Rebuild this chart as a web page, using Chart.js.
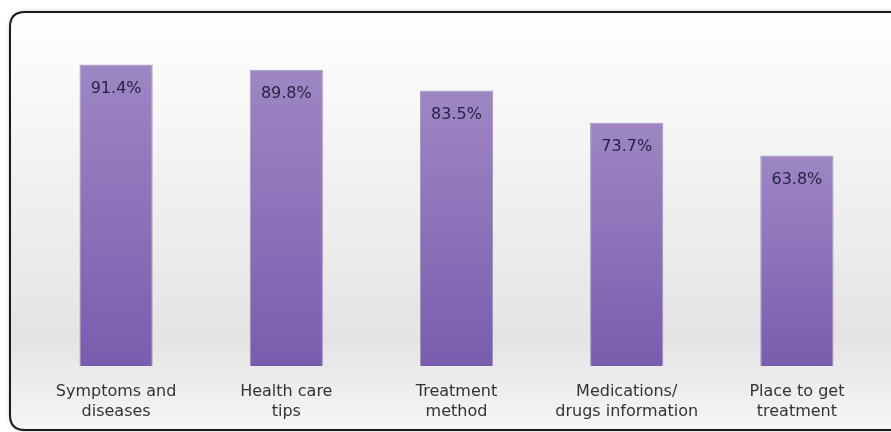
<!DOCTYPE html>
<html>
<head>
<meta charset="utf-8">
<script src="https://cdn.jsdelivr.net/npm/chart.js@4"></script>
<style>
  html, body { margin: 0; padding: 0; background: #fff; }
  #wrap { width: 891px; height: 432px; }
</style>
</head>
<body>
<div id="wrap"><canvas id="myChart" width="891" height="432"></canvas></div>
<script>
// data
const categories = [
  ['Symptoms and', 'diseases'],
  ['Health care', 'tips'],
  ['Treatment', 'method'],
  ['Medications/', 'drugs information'],
  ['Place to get', 'treatment']
];
const shares = [91.4, 89.8, 83.5, 73.7, 63.8];

// grey panel with rounded frame behind the chart
const panel = {
  id: 'panel',
  beforeDraw(chart) {
    const ctx = chart.ctx;
    const x0 = 10, y0 = 12, x1 = 896, y1 = 430, r = 15;
    ctx.save();
    const g = ctx.createLinearGradient(0, y0, 0, y1);
    g.addColorStop(0, '#ffffff');
    g.addColorStop(0.78, '#e4e4e4');
    g.addColorStop(1, '#f6f6f6');
    ctx.beginPath();
    ctx.moveTo(x0 + r, y0);
    ctx.lineTo(x1, y0);
    ctx.lineTo(x1, y1);
    ctx.lineTo(x0 + r, y1);
    ctx.quadraticCurveTo(x0, y1, x0, y1 - r);
    ctx.lineTo(x0, y0 + r);
    ctx.quadraticCurveTo(x0, y0, x0 + r, y0);
    ctx.closePath();
    ctx.fillStyle = g;
    ctx.shadowColor = 'rgba(0,0,0,0.35)';
    ctx.shadowBlur = 4;
    ctx.fill();
    ctx.shadowColor = 'transparent';
    ctx.lineWidth = 2;
    ctx.strokeStyle = '#1a1a1a';
    ctx.stroke();
    ctx.restore();
  }
};

// percentage written inside the top of each bar
const valueLabels = {
  id: 'valueLabels',
  afterDatasetsDraw(chart) {
    const ctx = chart.ctx;
    const meta = chart.getDatasetMeta(0);
    ctx.save();
    ctx.font = '16px "DejaVu Sans"';
    ctx.fillStyle = '#2b2242';
    ctx.textAlign = 'center';
    ctx.textBaseline = 'middle';
    meta.data.forEach((bar, i) => {
      ctx.fillText(shares[i].toFixed(1) + '%', bar.x, bar.y + 24);
    });
    ctx.restore();
  }
};

function barFill(context) {
  const chart = context.chart;
  if (!chart.chartArea) return '#8a72b8';
  const y = chart.scales.y;
  const top = y.getPixelForValue(context.raw);
  const bottom = y.getPixelForValue(0);
  const g = chart.ctx.createLinearGradient(0, top, 0, bottom);
  g.addColorStop(0, '#9e87c4');
  g.addColorStop(1, '#7a5cae');
  return g;
}

const myChart = new Chart(document.getElementById('myChart'), {
  type: 'bar',
  data: {
    labels: categories,
    datasets: [{
      data: shares,
      backgroundColor: barFill,
      borderColor: 'rgba(105,85,145,0.6)',
      borderWidth: 1,
      barPercentage: 0.43,
      categoryPercentage: 1
    }]
  },
  options: {
    responsive: false,
    animation: false,
    layout: { padding: { left: 31, right: 9, top: 36, bottom: 10 } },
    plugins: {
      legend: { display: false },
      tooltip: { enabled: false }
    },
    scales: {
      x: {
        grid: { display: false },
        border: { display: false },
        afterFit(scale) { scale.height = 56; },
        ticks: {
          color: '#333',
          padding: 8,
          maxRotation: 0,
          autoSkip: false,
          font: { family: 'DejaVu Sans', size: 16, lineHeight: 1.25 }
        }
      },
      y: {
        display: false,
        min: 0,
        max: 100
      }
    }
  },
  plugins: [panel, valueLabels]
});
</script>
</body>
</html>
